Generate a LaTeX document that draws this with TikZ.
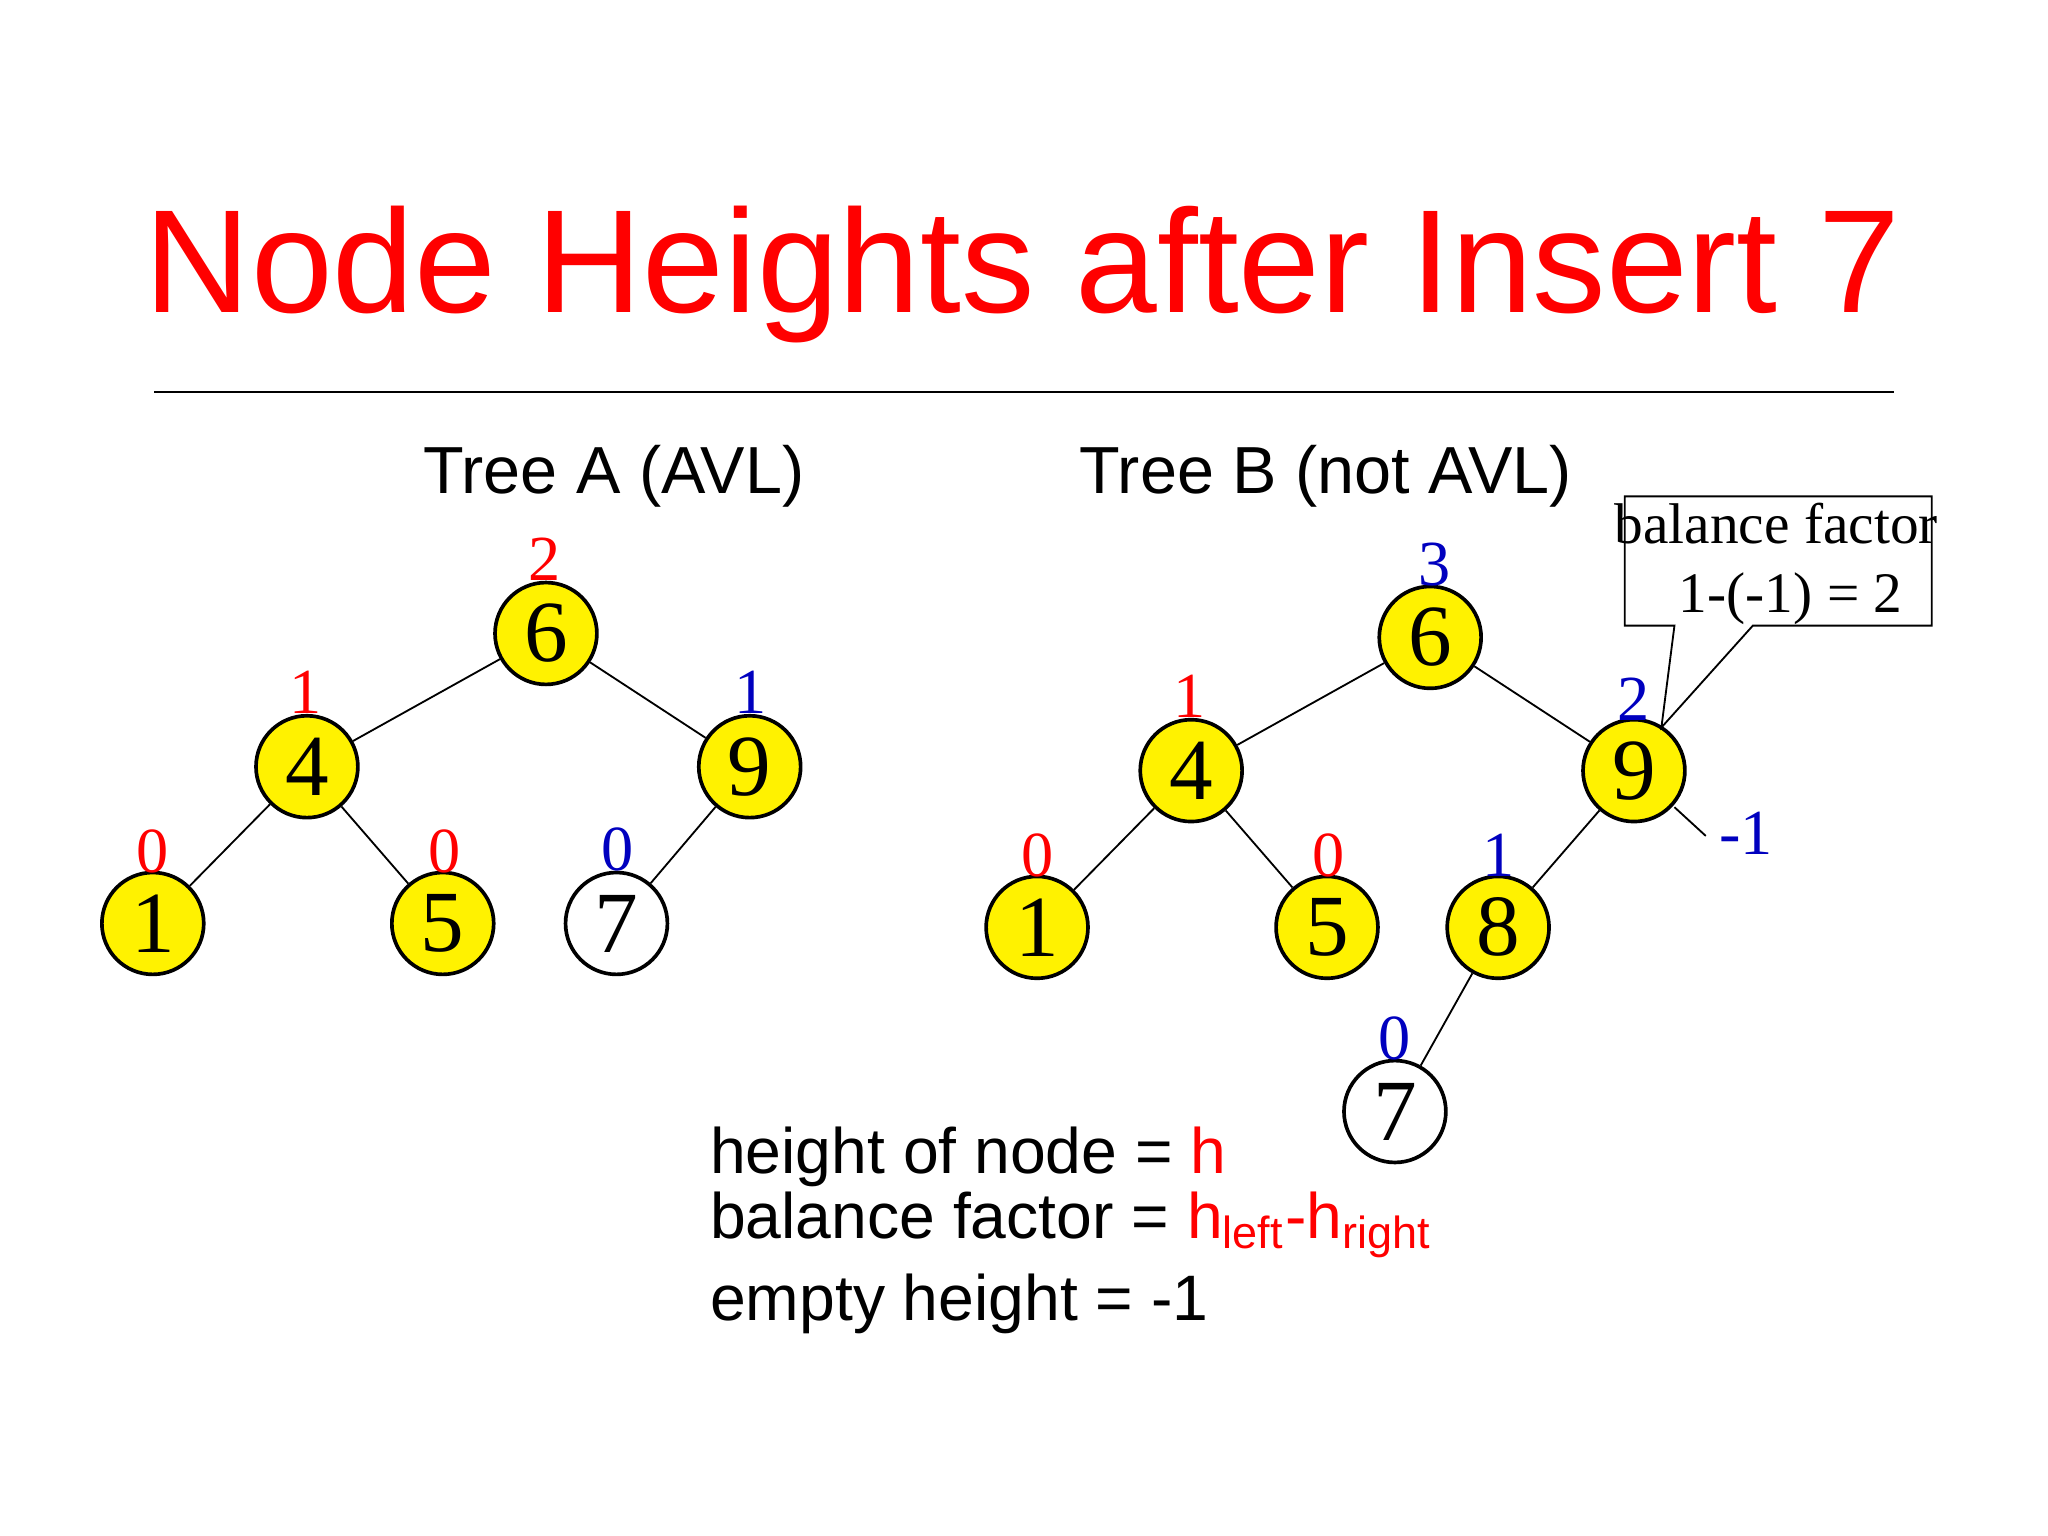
\documentclass[tikz,border=0pt]{standalone}
\usepackage{fontspec}
\setmainfont{Liberation Serif}
\newfontfamily\sans{Liberation Sans}
\begin{document}
\begin{tikzpicture}[x=0.1mm,y=-0.1mm,
  tn/.style={circle,draw,thick,fill=yellow,minimum size=7.8mm,inner sep=0pt,font=\fontsize{19}{19}\selectfont},
  wn/.style={tn,fill=white},
  rl/.style={text=red,font=\fontsize{14}{14}\selectfont,inner sep=0pt},
  bl/.style={text=blue!75!black,font=\fontsize{14}{14}\selectfont,inner sep=0pt},
  ed/.style={draw,thin},
  hd/.style={font=\sans\fontsize{14.5}{14.5}\selectfont},
  lg/.style={font=\sans\fontsize{14}{16}\selectfont,anchor=west,inner sep=0pt}]
\useasboundingbox (0,0) rectangle (1568,1176);
\node[font=\sans\fontsize{32}{32}\selectfont,text=red] (title) at (783,210) {Node Heights after Insert 7};
\coordinate (l1) at (118,300); \coordinate (l2) at (1450,300);
\draw (l1) -- (l2);
\node[hd] (ta) at (470,365) {Tree A (AVL)};
\node[hd] (tb) at (1015,365) {Tree B (not AVL)};
% Tree A
\node[tn] (a6) at (418,485) {6};
\node[tn] (a4) at (235,587) {4};
\node[tn] (a9) at (574,587) {9};
\node[tn] (a1) at (117,707) {1};
\node[tn] (a5) at (339,707) {5};
\node[wn] (a7) at (472,707) {7};
\draw[ed] (a6)--(a4); \draw[ed] (a6)--(a9); \draw[ed] (a4)--(a1); \draw[ed] (a4)--(a5); \draw[ed] (a9)--(a7);
\node[rl] (ha6) at (417,428) {2};
\node[rl] (ha4) at (234,530) {1};
\node[bl] (ha9) at (575,530) {1};
\node[rl] (ha1) at (117,652) {0};
\node[rl] (ha5) at (340,652) {0};
\node[bl] (ha7) at (473,650) {0};
% Tree B
\node[tn] (b6) at (1095,488) {6};
\node[tn] (b4) at (912,590) {4};
\node[tn] (b9) at (1251,590) {9};
\node[tn] (b1) at (794,710) {1};
\node[tn] (b5) at (1016,710) {5};
\node[tn] (b8) at (1147,710) {8};
\node[wn] (b7) at (1068,851) {7};
\draw[ed] (b6)--(b4); \draw[ed] (b6)--(b9); \draw[ed] (b4)--(b1); \draw[ed] (b4)--(b5); \draw[ed] (b9)--(b8); \draw[ed] (b8)--(b7);
\node[bl] (hb6) at (1098,432) {3};
\node[rl] (hb4) at (911,533) {1};
\node[bl] (hb9) at (1251,535) {2};
\node[rl] (hb1) at (794,655) {0};
\node[rl] (hb5) at (1017,655) {0};
\node[bl] (hb8) at (1147,655) {1};
\node[bl] (hb7) at (1068,795) {0};
\node[bl] (hm) at (1337,638) {-1};
\coordinate (m1) at (1282,618); \coordinate (m2) at (1306,640);
\draw[ed] (m1)--(m2);
% callout
\coordinate (c1) at (1282,479); \coordinate (c2) at (1342,479); \coordinate (tip) at (1272,557);
\draw[fill=white] (c1) -- (1244,479) -- (1244,380) -- (1479,380) -- (1479,479) -- (c2) -- (tip) -- cycle;
\node[font=\fontsize{12.5}{15}\selectfont,align=center] (cb) at (1360,432) {balance factor\\\ \ 1-(-1) = 2};
% legend
\node[lg] (g1) at (543,886) {height of node = \textcolor{red}{h}};
\node[lg] (g2) at (543,938) {balance factor = \textcolor{red}{h\textsubscript{left}-h\textsubscript{right}}};
\node[lg] (g3) at (543,998) {empty height = -1};
\end{tikzpicture}
\end{document}
